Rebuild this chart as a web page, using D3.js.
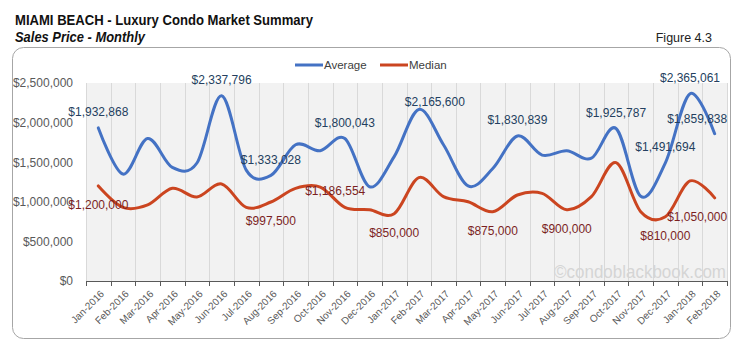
<!DOCTYPE html>
<html>
<head>
<meta charset="utf-8">
<script src="https://cdn.jsdelivr.net/npm/d3@7"></script>
<style>
  body { margin: 0; background: #fff; }
  svg { display: block; }
</style>
</head>
<body>
<div id="chart"></div>
<script>
// Miami Beach luxury condo — monthly sales price (average vs median)
const months = [
  'Jan-2016', 'Feb-2016', 'Mar-2016', 'Apr-2016', 'May-2016', 'Jun-2016',
  'Jul-2016', 'Aug-2016', 'Sep-2016', 'Oct-2016', 'Nov-2016', 'Dec-2016',
  'Jan-2017', 'Feb-2017', 'Mar-2017', 'Apr-2017', 'May-2017', 'Jun-2017',
  'Jul-2017', 'Aug-2017', 'Sep-2017', 'Oct-2017', 'Nov-2017', 'Dec-2017',
  'Jan-2018', 'Feb-2018'
];
const average = [
  1932868, 1350000, 1800000, 1435000, 1490000, 2337796,
  1400000, 1333028, 1720000, 1645000, 1800043, 1190000,
  1570000, 2165600, 1720000, 1200000, 1420000, 1830839,
  1590000, 1645000, 1550000, 1925787, 1070000, 1491694,
  2365061, 1859838
];
const median = [
  1200000, 930000, 960000, 1170000, 1060000, 1225000,
  930000, 997500, 1170000, 1186554, 930000, 900000,
  850000, 1305000, 1065000, 1000000, 875000, 1086000,
  1107000, 900000, 1065000, 1494000, 875000, 810000,
  1263000, 1050000
];
const yTicks = [0, 500000, 1000000, 1500000, 2000000, 2500000];
// months that carry a data label
const avgLabelIdx = [0, 5, 7, 10, 13, 17, 21, 23, 24, 25];
const medLabelIdx = [0, 7, 9, 12, 16, 19, 23, 25];

const W = 739, H = 351;
const plot = { left: 86, right: 727, top: 83, bottom: 281 };
const colors = { avg: '#4472C4', med: '#CB4520', avgText: '#243F60', medText: '#7B1F1F',
                 axis: '#595959', grid: '#D9D9D9', bg: '#F2F2F2' };
const FONT = 'Liberation Sans, Arial, sans-serif';

const svg = d3.select('#chart').append('svg')
  .attr('width', W).attr('height', H)
  .style('font-family', FONT);

// titles
svg.append('text').attr('x', 15).attr('y', 25)
  .attr('font-size', 15).attr('font-weight', 700).attr('fill', '#111')
  .attr('textLength', 298).attr('lengthAdjust', 'spacingAndGlyphs')
  .text('MIAMI BEACH - Luxury Condo Market Summary');
svg.append('text').attr('x', 15).attr('y', 42)
  .attr('font-size', 14).attr('font-weight', 700).attr('font-style', 'italic').attr('fill', '#111')
  .attr('textLength', 130).attr('lengthAdjust', 'spacingAndGlyphs')
  .text('Sales Price - Monthly');
svg.append('text').attr('x', 712).attr('y', 42)
  .attr('font-size', 12.5).attr('text-anchor', 'end').attr('fill', '#222')
  .text('Figure 4.3');

// chart frame
svg.append('rect')
  .attr('x', 12.5).attr('y', 47.5).attr('width', 718).attr('height', 291)
  .attr('rx', 11).attr('fill', '#fff').attr('stroke', '#A6A6A6');

const x = d3.scaleBand().domain(months).range([plot.left, plot.right]);
const y = d3.scaleLinear().domain([0, 2500000]).range([plot.bottom, plot.top]);
const cx = i => x(months[i]) + x.bandwidth() / 2;

// plot background + vertical grid at category boundaries
svg.append('rect')
  .attr('x', plot.left).attr('y', plot.top)
  .attr('width', plot.right - plot.left).attr('height', plot.bottom - plot.top)
  .attr('fill', colors.bg);

const edges = months.map(m => x(m)).concat([plot.right]);
svg.append('g').selectAll('line').data(edges).join('line')
  .attr('x1', d => Math.round(d) + 0.5).attr('x2', d => Math.round(d) + 0.5)
  .attr('y1', plot.top).attr('y2', plot.bottom)
  .attr('stroke', colors.grid);

// watermark
svg.append('text').attr('x', plot.right - 1).attr('y', 278)
  .attr('text-anchor', 'end').attr('font-size', 18.5).attr('fill', '#D5D5D5')
  .attr('textLength', 172).attr('lengthAdjust', 'spacingAndGlyphs')
  .text('\u00A9condoblackbook.com');

// y axis labels
const yAxis = svg.append('g')
  .attr('transform', `translate(${plot.left},0)`)
  .call(d3.axisLeft(y).tickValues(yTicks).tickFormat(d3.format('$,')).tickSize(0).tickPadding(13));
yAxis.select('.domain').remove();
yAxis.selectAll('text').attr('font-size', 12).attr('fill', colors.axis).style('font-family', FONT);

// x axis
const xAxis = svg.append('g')
  .attr('transform', `translate(0,${plot.bottom})`)
  .call(d3.axisBottom(x).tickSize(0));
xAxis.select('.domain').remove();
xAxis.selectAll('text')
  .attr('font-size', 10).attr('fill', colors.axis).style('font-family', FONT)
  .attr('text-anchor', 'end').attr('x', 0).attr('y', 0).attr('dy', '0.35em')
  .attr('transform', 'translate(4,11) rotate(-45)');

svg.append('line')
  .attr('x1', plot.left).attr('x2', plot.right)
  .attr('y1', plot.bottom + 0.5).attr('y2', plot.bottom + 0.5)
  .attr('stroke', colors.axis);
svg.append('g').selectAll('line').data(edges).join('line')
  .attr('x1', d => Math.round(d) + 0.5).attr('x2', d => Math.round(d) + 0.5)
  .attr('y1', plot.bottom).attr('y2', plot.bottom + 5)
  .attr('stroke', colors.axis);

// legend
const legend = [
  { name: 'Average', color: colors.avg, x: 295 },
  { name: 'Median', color: colors.med, x: 380 }
];
legend.forEach(l => {
  svg.append('line').attr('x1', l.x).attr('x2', l.x + 28).attr('y1', 65).attr('y2', 65)
    .attr('stroke', l.color).attr('stroke-width', 3);
  svg.append('text').attr('x', l.x + 29).attr('y', 69)
    .attr('font-size', 11.5).attr('fill', '#404040').text(l.name);
});

// series lines (Excel smoothed lines)
const line = d3.line()
  .x((d, i) => cx(i))
  .y(d => y(d))
  .curve(d3.curveCardinal.tension(0));

svg.append('path').datum(median)
  .attr('d', line).attr('fill', 'none')
  .attr('stroke', colors.med).attr('stroke-width', 3).attr('stroke-linecap', 'round');
svg.append('path').datum(average)
  .attr('d', line).attr('fill', 'none')
  .attr('stroke', colors.avg).attr('stroke-width', 3).attr('stroke-linecap', 'round');

// data labels
const fmt = d3.format('$,');
const nudge = { avg: { 13: [16, 8], 25: [-17.5, 1] }, med: { 9: [15, -15], 25: [-17.5, 0] } };

function drawLabels(values, idx, dy, fill, key) {
  idx.forEach(i => {
    const [ox, oy] = nudge[key][i] || [0, 0];
    svg.append('text')
      .attr('x', cx(i) + ox)
      .attr('y', y(values[i]) + dy + oy)
      .attr('dy', '0.35em')
      .attr('text-anchor', 'middle')
      .attr('font-size', 12)
      .attr('fill', fill)
      .text(fmt(values[i]));
  });
}
drawLabels(average, avgLabelIdx, -16, colors.avgText, 'avg');
drawLabels(median, medLabelIdx, 19, colors.medText, 'med');
</script>
</body>
</html>
